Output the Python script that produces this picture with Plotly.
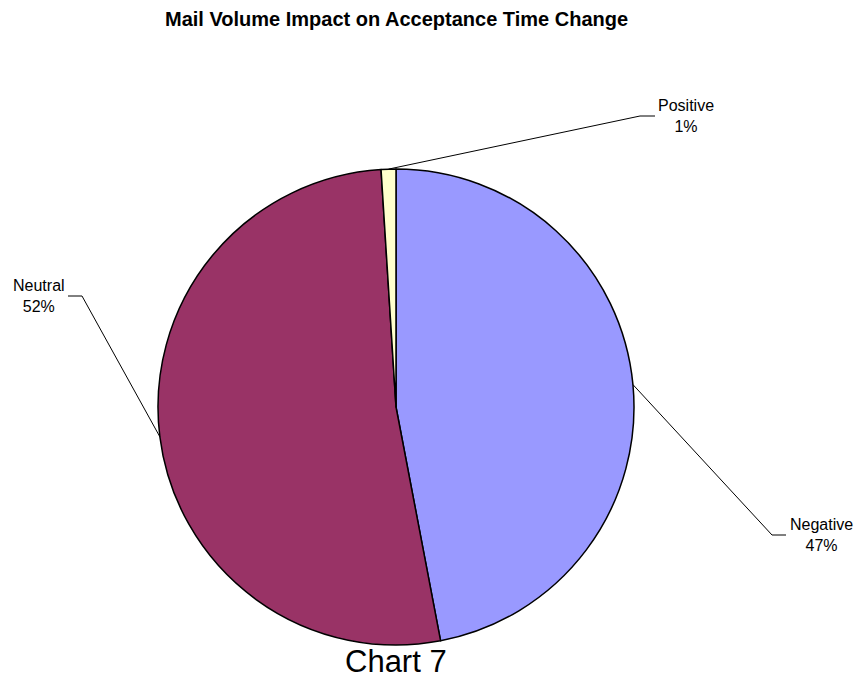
import math
import plotly.graph_objects as go

# Slice data
categories = ["Negative", "Neutral", "Positive"]
values = [47, 52, 1]
colors = ["#9999FF", "#993366", "#FFFFCC"]

title_text = "Mail Volume Impact on Acceptance Time Change"
caption_text = "Chart 7"

W, H = 856, 681
CX, CY, R = 396, 407, 238  # pie centre and radius in pixels

def fx(x):
    return x / W

def fy(y):
    return 1 - y / H

# leader-line layout: elbow point, end point and label centre (pixels)
label_layout = {
    "Negative": {"elbow": (772, 535), "end": (786, 535), "text": (821, 535)},
    "Neutral": {"elbow": (82, 296), "end": (68, 296), "text": (39, 296)},
    "Positive": {"elbow": (640, 116), "end": (655, 116), "text": (686, 116)},
}

fig = go.Figure(go.Pie(
    labels=categories,
    values=values,
    sort=False,
    direction="clockwise",
    rotation=0,
    marker=dict(colors=colors, line=dict(color="black", width=1.5)),
    textinfo="none",
    hoverinfo="label+percent",
    showlegend=False,
    domain=dict(x=[fx(CX - R), fx(CX + R)], y=[fy(CY + R), fy(CY - R)]),
))

total = sum(values)
start = 0.0
shapes = []
annotations = []
for name, v in zip(categories, values):
    frac = v / total
    mid = (start + frac / 2) * 2 * math.pi  # clockwise from 12 o'clock
    start += frac
    ax = CX + R * math.sin(mid)
    ay = CY - R * math.cos(mid)
    lay = label_layout[name]
    ex, ey = lay["elbow"]
    tx, ty = lay["end"]
    path = f"M {fx(ax)},{fy(ay)} L {fx(ex)},{fy(ey)} L {fx(tx)},{fy(ty)}"
    shapes.append(dict(type="path", xref="paper", yref="paper", path=path,
                       line=dict(color="black", width=1)))
    lx, ly = lay["text"]
    annotations.append(dict(
        x=fx(lx), y=fy(ly), xref="paper", yref="paper",
        text=f"{name}<br>{round(frac * 100)}%", showarrow=False,
        xanchor="center", yanchor="middle", align="center",
        font=dict(family="Liberation Sans, Arial", size=16, color="black"),
    ))

annotations.append(dict(
    x=fx(396), y=fy(19), xref="paper", yref="paper", text=f"<b>{title_text}</b>",
    showarrow=False, xanchor="center", yanchor="middle",
    font=dict(family="Liberation Sans, Arial", size=20, color="black"),
))
annotations.append(dict(
    x=fx(396), y=fy(661), xref="paper", yref="paper", text=caption_text,
    showarrow=False, xanchor="center", yanchor="middle", borderpad=0,
    font=dict(family="Liberation Sans, Arial", size=31, color="black"),
))

fig.update_layout(
    width=W, height=H,
    margin=dict(l=0, r=0, t=0, b=0),
    paper_bgcolor="white", plot_bgcolor="white",
    shapes=shapes, annotations=annotations,
)

fig.write_html("out.html")
